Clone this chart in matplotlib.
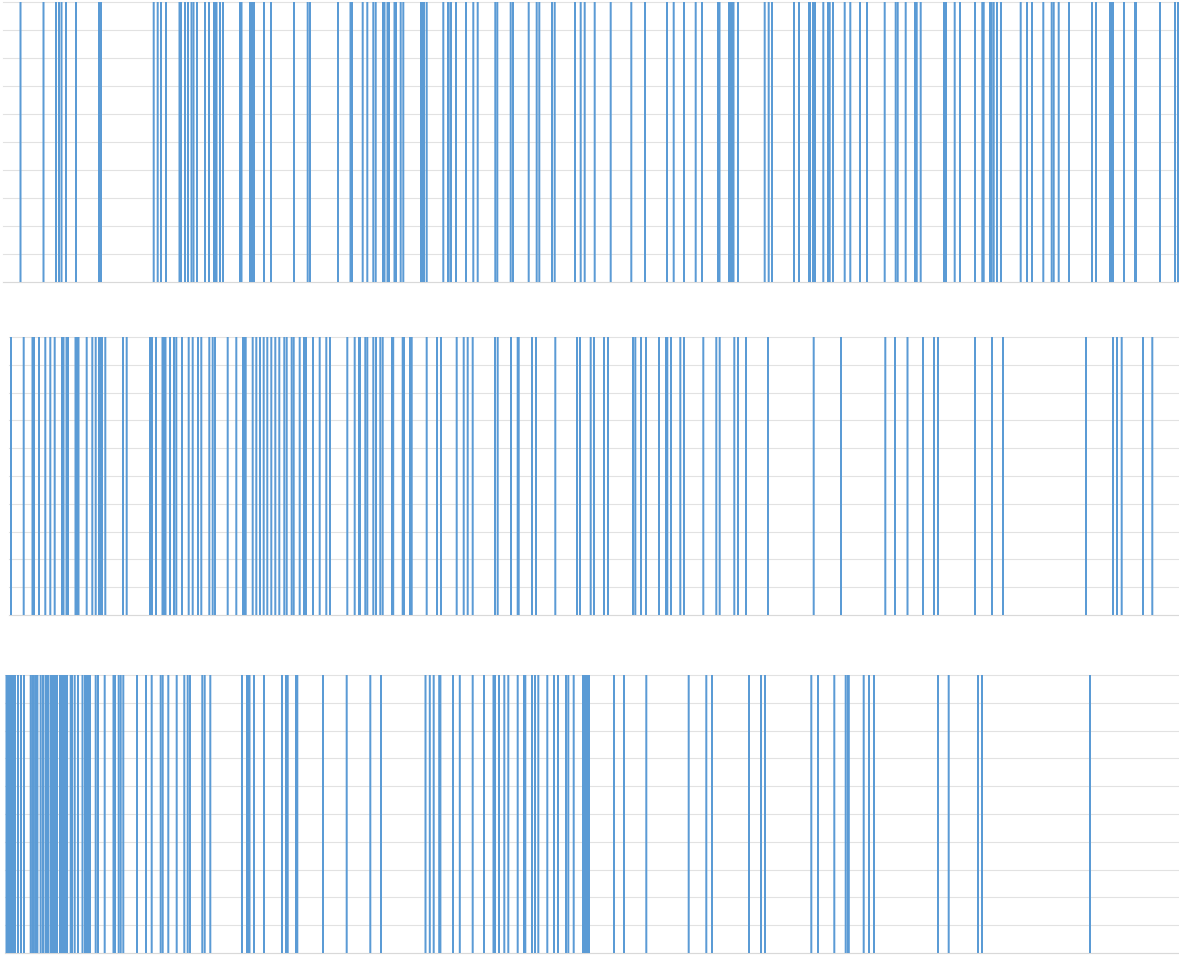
import matplotlib
matplotlib.use("Agg")
import matplotlib.pyplot as plt
import numpy as np

top_positions = [20.5,43.5,56,59,61.5,66,76,99,100,101,153.7,157.7,161,166,179.5,181,185,188,191.5,193.5,197,205,209,214,215.5,216.5,220,223,240,241.5,250,251,252.5,254,264,271,294,
307.7,310,338,350.5,352,362.7,367.3,373.3,375.7,383,384.5,387.5,389,394.5,396,400.7,403.3,421,422,424,426.7,443.3,448,448.7,451,456,466,473.3,477.7,495.3,497.3,510.7,513,528.7,536.7,539.3,552,554.7,575,580.7,584.7,
594.7,610.7,631.3,645,667,673.7,684,695.7,702,718,719.5,729,730.5,732,733.5,738,764.7,768.7,772,794,799,809,810,813,815,823.3,828,829.7,833,844.7,850.3,860,867,884.7,
895.7,897.7,905.7,915,916.7,920.7,944,946,954.7,960,975,982.3,983.7,990,991.7,993.7,997,1001,1020.7,1027,1032,1043.3,1051.7,1053.7,1058.7,1069,1092,1096,1110,1111,1112,1113,1124,1135,1136,1160,1175,1178]

middle_positions = [11,23.7,32.5,34,39,45.3,50.3,54.7,62,63.5,66.5,68,75.5,77,78.5,86.7,92.3,95.7,99,100.5,102,105.3,123,126.7,150,152,156,162.5,164,165.5,170,174,176.3,182,188.7,192.7,198,201.3,209.3,212.7,215,227.7,236.3,243,244,245.7,252.7,256.3,260,263.7,267.3,271.3,275.3,279.3,284.3,286.7,291.7,293.7,
299.7,304,305,306,313,319.7,326.3,330,347.3,354.7,359,360,365.3,367.3,373.3,376,380.3,382.7,392,393.2,402.7,404,410,411.7,426.7,437,441,456.7,463.7,467.7,472.7,495,497.7,511,517.7,518.7,532,536,555.3,577,580,590.7,594,604,608,633,635.3,641,646,659,666,667.3,671,680.3,684,703.3,716.3,719.7,734.3,738,746,768,813.7,841,885.3,
895,907.5,923,934,938,975,992,1003,1086,1113,1117,1121.7,1143,1152.3]

bottom_positions = [6.5,8,9.5,11,12.5,14,15,18,21,24,30.7,32.2,33.7,35.2,36.7,37.4,40.7,43,45.5,47,48.5,51,52.5,54,55.5,57,60,61.5,63,64.5,66,67,70.7,72,74.7,78,82.5,85,86.5,88,90,95.7,98,104.7,113.5,115,118.7,120.7,123.3,137,146,151.7,160.7,162.7,168.3,176.7,184.3,187.7,190,
202.3,204.7,210.3,242,247,248,249.5,254,264,282,286,287.7,296,297.3,323,346.7,370.3,381,425.5,429.8,433.7,439.2,440.4,453,459.8,472.7,484,493.5,495,499,504.3,508.3,517.7,524,525.3,532,535,538.3,547.3,554,558,566,568.3,573.7,583,584.3,586,588,589,614,624,646.3,688.7,706.3,712,
749,761,765,811.3,818,834.3,845.7,847.8,848.8,863.7,869,874,938,948.7,978,982,1090]

panel_values = [1.0, 1.0, 1.0]
panel_positions = [top_positions, middle_positions, bottom_positions]
panel_left = [3, 9, 5]
panel_top = [2, 337, 675]
panel_bottom = [282, 615, 953]

W, H = 1179, 956
fig = plt.figure(figsize=(W/100, H/100), dpi=100, facecolor="white")
for pos, v, l, t, b in zip(panel_positions, panel_values, panel_left, panel_top, panel_bottom):
    ax = fig.add_axes([l/W, 1-b/H, (W-l)/W, (b-t)/H])
    ax.set_xlim(l, W)
    ax.set_ylim(0, 1)
    ax.bar(pos, [v]*len(pos), width=2.0, color="#5B9BD5", linewidth=0, snap=False, zorder=3)
    ax.set_yticks(np.arange(0, 1.01, 0.1))
    ax.set_xticks([])
    ax.tick_params(left=False, labelleft=False)
    ax.grid(axis="y", color="#E2E2E2", linewidth=0.8, zorder=0)
    ax.set_axisbelow(True)
    for s in ("top", "left", "right"):
        ax.spines[s].set_visible(False)
    ax.spines["bottom"].set_color("#D9D9D9")
    ax.spines["bottom"].set_linewidth(0.8)
    for gl in ax.get_ygridlines():
        gl.set_clip_on(False)
fig.savefig("out.png", dpi=100)
